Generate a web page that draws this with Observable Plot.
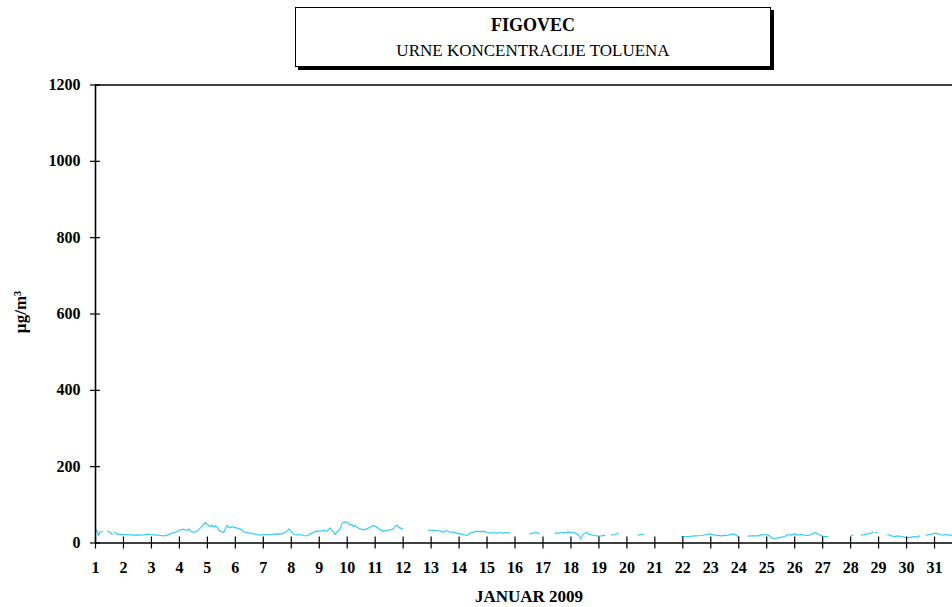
<!DOCTYPE html>
<html>
<head>
<meta charset="utf-8">
<script src="https://cdn.jsdelivr.net/npm/d3@7"></script>
<script src="https://cdn.jsdelivr.net/npm/@observablehq/plot@0.6"></script>
<style>
  html, body { margin: 0; padding: 0; overflow: hidden; background: #fff; width: 952px; height: 607px; }
  #box { position: absolute; left: 295px; top: 7px; width: 476px; height: 60px; box-sizing: border-box;
         border: 1px solid #000; box-shadow: 3px 3px 0 #000; background: #fff; z-index: 0; }
  .ttl { position: absolute; left: 295px; width: 476px; text-align: center; z-index: 2;
         font-family: "Liberation Serif", "Times New Roman", serif; color: #000; white-space: nowrap; }
  #t1 { top: 16px; font-size: 18px; line-height: 18px; font-weight: bold; }
  #t2 { top: 42px; font-size: 17px; line-height: 17px; }
  #chart { position: absolute; left: 0; top: 0; z-index: 1; width: 970px; }
  #chart svg { max-width: none !important; }
</style>
</head>
<body>
<div id="box"></div>
<div class="ttl" id="t1"></div>
<div class="ttl" id="t2"></div>
<div id="chart"></div>
<script>
const titleText = "FIGOVEC";
const subtitleText = "URNE KONCENTRACIJE TOLUENA";
const xAxisLabel = "JANUAR 2009";
const yAxisLabel = "µg/m³";
const yTicks = [0, 200, 400, 600, 800, 1000, 1200];
const xTicks = [1,2,3,4,5,6,7,8,9,10,11,12,13,14,15,16,17,18,19,20,21,22,23,24,25,26,27,28,29,30,31];

// time in days of January (1.0 = start of 1st), null value = gap in measurements
const dayTime = [
  1.000,1.060,1.107,1.155,1.238, 1.34,
  1.440,1.512,1.595, 1.64,
  1.679,1.774,1.893,2.000,2.131,2.250,2.369,2.488,2.607,2.726,
  2.845,2.964,3.083,3.202,3.321,3.440,3.560,3.679,3.798,3.917,
  4.036,4.155,4.274,4.333,4.393,4.512,4.631,4.750,4.869,4.929,
  4.988,5.048,5.107,5.167,5.226,5.286,5.345,5.405,5.464,5.583,
  5.643,5.702,5.762,5.821,5.881,5.940,6.060,6.179,6.298,6.417,
  6.536,6.655,6.774,6.893,7.012,7.131,7.250,7.369,7.488,7.607,
  7.726,7.845,7.917,7.988,8.083,8.202,8.321,8.440,8.560,8.679,
  8.798,8.917,9.036,9.155,9.274,9.393,9.452,9.512,9.571,9.631,
  9.750,9.810,9.869,9.988,10.048,10.107,10.167,10.226,10.286,10.345,
  10.464,10.583,10.702,10.821,10.940,11.060,11.179,11.298,11.417,11.536,
  11.655,11.714,11.774,11.833,11.893,11.976, 12.4,
  12.905,13.083,13.202,13.321,13.440,13.560,13.679,13.798,13.917,14.036,
  14.155,14.274,14.393,14.512,14.631,14.750,14.869,14.988,15.107,15.226,
  15.345,15.464,15.583,15.702,15.821, 16.2,
  16.536,16.655,16.774,16.857, 17.1,
  17.429,17.548,17.667,17.786,17.905,18.024,18.083,18.143,18.262,18.345,
  18.440,18.500,18.560,18.619,18.738,18.857,18.976,19.095,19.214, 19.3,
  19.452,19.571,19.690, 20.0,
  20.405,20.524,20.583, 21.2,
  21.952,22.190,22.429,22.667,22.845,22.964,23.143,23.381,23.619,23.798,23.917,23.976, 24.15,
  24.333,24.452,24.690,24.810,24.988,25.107,25.167,25.286,25.405,25.524,
  25.643,25.762,25.881,26.000,26.119,26.238,26.357,26.476,26.595,26.714,
  26.833,26.952,27.071,27.190, 27.6,
  28.024,28.083, 28.2,
  28.381,28.500,28.619,28.738,28.798, 28.85,
  28.893,28.940, 29.1,
  29.333,29.452,29.571,29.690,29.810,29.929,30.048,30.167,30.286,30.405,30.464, 30.6,
  30.702,30.821,30.940,31.060,31.179,31.298,31.417,31.536,31.607
];
const toluene = [
  37.1,31.0,19.7,28.4,30.1, null,
  31.0,28.4,22.3, null,
  27.5,24.0,21.4,22.3,22.3,21.4,20.5,21.4,20.5,21.4,
  23.1,22.3,21.4,20.5,19.7,18.8,20.5,24.0,27.5,29.3,
  34.5,36.2,32.8,37.1,31.0,27.5,31.0,39.7,48.5,53.7,
  48.5,45.9,43.2,46.7,41.5,45.0,41.5,34.5,31.0,27.5,
  37.1,45.9,41.5,39.7,43.2,41.5,38.9,37.1,29.3,27.5,
  25.8,24.0,22.3,20.5,22.3,21.4,22.3,23.1,24.0,23.1,
  25.8,31.0,37.1,31.0,22.3,21.4,22.3,19.7,18.8,24.0,
  28.4,31.0,31.0,32.8,31.0,39.7,32.8,28.4,22.3,28.4,
  37.1,50.2,54.6,54.6,52.0,45.9,48.5,43.2,45.9,41.5,
  37.1,34.5,37.1,41.5,45.9,41.5,34.5,31.0,32.8,34.5,
  37.1,43.2,46.7,41.5,39.7,37.1, null,
  33.6,32.8,32.8,31.0,28.4,32.8,28.4,28.4,25.8,24.0,
  22.3,19.7,25.8,28.4,31.0,29.3,31.0,27.5,25.8,27.5,
  25.8,27.5,25.8,27.5,25.8, null,
  24.0,25.8,27.5,24.0, null,
  25.8,25.8,27.5,26.6,29.3,26.6,28.4,25.8,22.3,11.8,
  22.3,25.8,28.4,24.0,21.4,19.7,18.0,18.8,20.5, null,
  20.5,22.3,25.8, null,
  20.5,22.3,22.3, null,
  17.0,17.0,18.8,19.7,22.3,24.0,20.5,18.8,20.5,24.0,20.5,15.3, null,
  18.0,18.8,18.8,21.4,22.3,18.8,13.5,11.8,13.5,15.3,
  17.0,22.3,20.5,24.0,20.5,22.3,20.5,19.7,22.3,27.5,
  24.0,18.8,17.0,17.0, null,
  19.7,20.5, null,
  20.5,22.3,24.0,25.8,28.4, null,
  27.5,27.5, null,
  22.3,18.8,17.0,18.8,17.0,15.3,13.5,15.3,17.0,15.3,18.8, null,
  20.5,22.3,24.0,25.8,22.3,20.5,22.3,20.5,20.5
];

document.getElementById("t1").textContent = titleText;
document.getElementById("t2").textContent = subtitleText;

const data = dayTime.map((t, i) => ({t, v: toluene[i]}));
const serif = "'Liberation Serif', 'Times New Roman', serif";

const chart = Plot.plot({
  width: 970,
  height: 607,
  marginLeft: 95,
  marginRight: 8,
  marginTop: 84.5,
  marginBottom: 64.5,
  style: {background: "transparent", fontFamily: serif, color: "#000", overflow: "visible", maxWidth: "none"},
  x: {domain: [1, 32]},
  y: {domain: [0, 1200]},
  marks: [
    Plot.line(data, {x: "t", y: "v", stroke: "#33CCFF", strokeWidth: 1.2}),
    Plot.ruleX([1], {stroke: "#000", strokeWidth: 1.6}),
    Plot.ruleY([0, 1200], {stroke: "#000", strokeWidth: 1.4}),
    Plot.axisY({ticks: yTicks, tickSize: 10, dx: 5, fill: "none", label: null, stroke: "#000", strokeWidth: 1.2}),
    Plot.axisY({ticks: yTicks, tickSize: 0, tickPadding: 15, label: null, fontSize: 16, fontWeight: "bold", fill: "#000", tickFormat: d => String(d)}),
    Plot.axisX({ticks: xTicks, tickSize: 12, dy: -6, fill: "none", label: null, stroke: "#000", strokeWidth: 1.2}),
    Plot.axisX({ticks: xTicks, tickSize: 0, tickPadding: 19, label: null, fontSize: 16, fontWeight: "bold", fill: "#000", tickFormat: d => String(d)}),
    Plot.text([xAxisLabel], {text: d => d, frameAnchor: "bottom", dy: 53.8, fontSize: 17, fontWeight: "bold", lineAnchor: "middle", textAnchor: "middle", fill: "#000"}),
    Plot.text([yAxisLabel], {text: d => d, frameAnchor: "left", dx: -75, dy: -2, rotate: -90, fontSize: 17, fontWeight: "bold", lineAnchor: "middle", textAnchor: "middle", fill: "#000"})
  ]
});
document.getElementById("chart").appendChild(chart);
</script>
</body>
</html>
